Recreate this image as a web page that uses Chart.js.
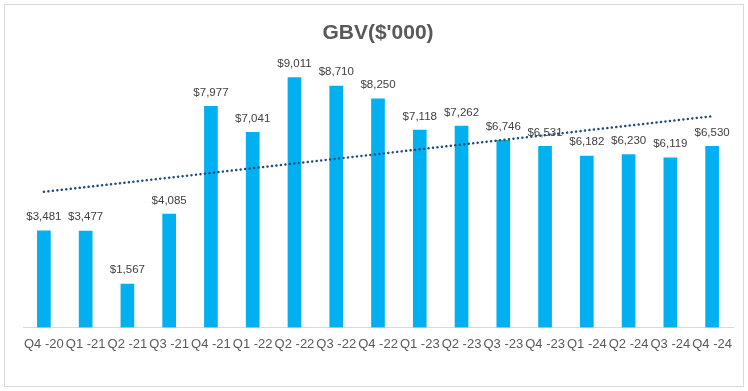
<!DOCTYPE html>
<html>
<head>
<meta charset="utf-8">
<script src="https://cdn.jsdelivr.net/npm/chart.js@4.4.1/dist/chart.umd.min.js"></script>
<style>
  body { margin: 0; background: #fff; }
  #box { position: absolute; left: 4px; top: 4px; width: 738px; height: 381px; border: 1px solid #d9d9d9; }
  canvas { display: block; }
</style>
</head>
<body>
<div id="box"><canvas id="gbvChart" width="738" height="381"></canvas></div>
<script>
const quarters = ['Q4 -20', 'Q1 -21', 'Q2 -21', 'Q3 -21', 'Q4 -21', 'Q1 -22', 'Q2 -22', 'Q3 -22', 'Q4 -22',
    'Q1 -23', 'Q2 -23', 'Q3 -23', 'Q4 -23', 'Q1 -24', 'Q2 -24', 'Q3 -24', 'Q4 -24'];
const gbv = [3481, 3477, 1567, 4085, 7977, 7041, 9011, 8710, 8250, 7118, 7262, 6746, 6531, 6182, 6230, 6119, 6530];

// linear trendline (least squares), like Excel's
function trend(values) {
    const n = values.length;
    const mx = (n - 1) / 2;
    const my = values.reduce((a, b) => a + b, 0) / n;
    let sxy = 0, sxx = 0;
    values.forEach((v, i) => { sxy += (i - mx) * (v - my); sxx += (i - mx) * (i - mx); });
    const slope = sxy / sxx;
    return values.map((v, i) => my + slope * (i - mx));
}

// data labels above the bars
const barLabels = {
    id: 'barLabels',
    afterDatasetDraw(chart, args) {
        if (args.index !== 1) return;
        const ctx = chart.ctx;
        ctx.save();
        ctx.font = '11.5px "Liberation Sans", Arial, sans-serif';
        ctx.fillStyle = '#404040';
        ctx.textAlign = 'center';
        ctx.textBaseline = 'bottom';
        args.meta.data.forEach((bar, i) => {
            ctx.fillText('$' + gbv[i].toLocaleString('en-US'), bar.x, bar.y - 8);
        });
        ctx.restore();
    }
};

const ctx = document.getElementById('gbvChart').getContext('2d');
new Chart(ctx, {
    data: {
        labels: quarters,
        datasets: [{
            type: 'line',
            label: 'Trend',
            data: trend(gbv),
            borderColor: '#1f4e79',
            borderWidth: 2.5,
            borderDash: [0.1, 4.4],
            borderCapStyle: 'round',
            pointRadius: 0,
            fill: false,
            order: 0
        }, {
            type: 'bar',
            label: 'GBV',
            data: gbv,
            backgroundColor: '#00b0f0',
            barThickness: 13,
            order: 1
        }]
    },
    options: {
        responsive: false,
        animation: false,
        layout: { padding: { left: 18, right: 10, top: 0, bottom: 25 } },
        plugins: {
            legend: { display: false },
            tooltip: { enabled: false },
            title: {
                display: true,
                text: "GBV($'000)",
                color: '#595959',
                font: { family: '"Liberation Sans", Arial, sans-serif', size: 21, weight: 'bold' },
                padding: { top: 16, bottom: 4 }
            }
        },
        scales: {
            x: {
                grid: { display: false, drawTicks: false },
                border: { color: '#d9d9d9' },
                ticks: {
                    color: '#595959',
                    font: { family: '"Liberation Sans", Arial, sans-serif', size: 13 },
                    maxRotation: 0,
                    autoSkip: false,
                    padding: 9
                }
            },
            y: {
                display: false,
                min: 0,
                max: 10000
            }
        }
    },
    plugins: [barLabels]
});
</script>
</body>
</html>
